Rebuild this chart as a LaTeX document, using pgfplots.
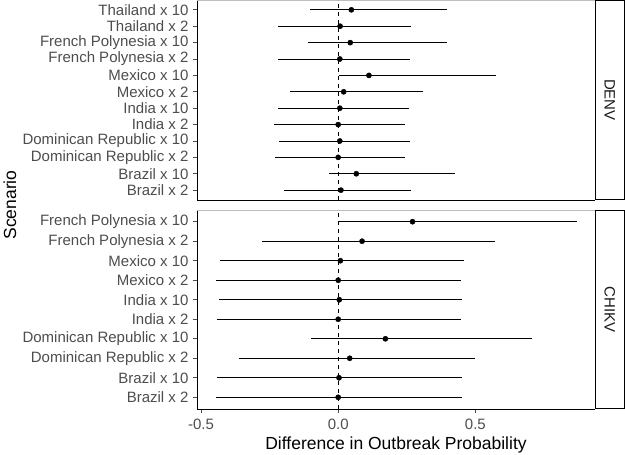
\documentclass[border=0pt]{standalone}
\usepackage{pgfplots}
\pgfplotsset{compat=1.18}
\usepackage{pgfplotstable}
\usepackage{fontspec}
\setmainfont{Liberation Sans}
\definecolor{tickgray}{HTML}{4D4D4D}
\definecolor{bordergray}{HTML}{BEBEBE}
\definecolor{stripgray}{HTML}{1A1A1A}

% DENV panel: y position, lower, estimate, upper
\pgfplotstableread{
y lo mid hi
12 -0.101 0.048 0.395
11 -0.220 0.007 0.265
10 -0.111 0.044 0.396
9 -0.220 0.006 0.262
8 0.002 0.112 0.577
7 -0.175 0.020 0.310
6 -0.220 0.006 0.257
5 -0.234 0.000 0.243
4 -0.215 0.006 0.261
3 -0.232 0.000 0.244
2 -0.032 0.066 0.425
1 -0.199 0.010 0.267
}\denv

% CHIKV panel
\pgfplotstableread{
y lo mid hi
10 0.000 0.271 0.870
9 -0.277 0.087 0.571
8 -0.431 0.008 0.460
7 -0.445 0.000 0.448
6 -0.435 0.004 0.453
5 -0.442 0.000 0.446
4 -0.098 0.172 0.705
3 -0.361 0.042 0.498
2 -0.442 0.003 0.450
1 -0.447 0.000 0.450
}\chikv

\pgfplotsset{
  panel/.style={
    scale only axis, width=398bp,
    xmin=-0.5146, xmax=0.936, ymin=0.4,
    axis x line*=bottom, axis y line*=left,
    axis line style={black, line width=0.8bp, -},
    tick align=outside, major tick length=4bp,
    tick style={tickgray, line width=0.8bp},
    ticklabel style={font=\fontsize{15bp}{17bp}\selectfont, text=tickgray},
    xticklabel style={yshift=-3bp},
    yticklabel style={xshift=-1bp},
    ytick distance=1,
    clip=false,
  },
  ci/.style={
    only marks, mark=*, mark size=2.6bp, black,
    mark options={fill=black, draw=black},
    error bars/.cd, x dir=both, x explicit, error mark=none,
    error bar style={black, line width=0.8bp},
  },
}

\begin{document}
\begin{tikzpicture}
\useasboundingbox (0,0) rectangle (625bp,455bp);

\begin{axis}[panel, at={(197bp,455bp)}, anchor=north west, height=200bp,
  ymax=12.6, xtick=\empty, ytick={1,...,12},
  yticklabels={Brazil x 2, Brazil x 10, Dominican Republic x 2, Dominican Republic x 10,
    India x 2, India x 10, Mexico x 2, Mexico x 10, French Polynesia x 2,
    French Polynesia x 10, Thailand x 2, Thailand x 10}]
  \draw[bordergray, line width=0.8bp] (rel axis cs:0,1) -- (rel axis cs:1,1);
  \addplot[black, line width=0.8bp, dash pattern=on 4bp off 4bp] coordinates {(0,0.4) (0,12.6)};
  \addplot+[ci] table[x=mid, y=y,
    x error plus expr=\thisrow{hi}-\thisrow{mid},
    x error minus expr=\thisrow{mid}-\thisrow{lo}] {\denv};
\end{axis}

\begin{axis}[panel, at={(197bp,46bp)}, anchor=south west, height=199bp,
  ymax=10.6, xtick={-0.5,0,0.5}, xticklabels={-0.5,0.0,0.5}, ytick={1,...,10},
  yticklabels={Brazil x 2, Brazil x 10, Dominican Republic x 2, Dominican Republic x 10,
    India x 2, India x 10, Mexico x 2, Mexico x 10, French Polynesia x 2,
    French Polynesia x 10}]
  \draw[bordergray, line width=0.8bp] (rel axis cs:0,1) -- (rel axis cs:1,1);
  \addplot[black, line width=0.8bp, dash pattern=on 4bp off 4bp] coordinates {(0,0.4) (0,10.6)};
  \addplot+[ci] table[x=mid, y=y,
    x error plus expr=\thisrow{hi}-\thisrow{mid},
    x error minus expr=\thisrow{mid}-\thisrow{lo}] {\chikv};
\end{axis}

% facet strips
\draw[black, line width=1.4bp, fill=white] (595.7bp,255.7bp) rectangle (624.2bp,454.3bp);
\node[rotate=-90, text=stripgray, font=\fontsize{15bp}{17bp}\selectfont] at (609.9bp,355bp) {DENV};
\draw[black, line width=1.4bp, fill=white] (595.7bp,46.7bp) rectangle (624.2bp,244.3bp);
\node[rotate=-90, text=stripgray, font=\fontsize{15bp}{17bp}\selectfont] at (609.9bp,145.5bp) {CHIKV};

% axis titles
\node[anchor=base, font=\fontsize{17.5bp}{20bp}\selectfont] at (396bp,5.5bp) {Difference in Outbreak Probability};
\node[rotate=90, anchor=base, font=\fontsize{17.5bp}{20bp}\selectfont] at (16bp,250bp) {Scenario};
\end{tikzpicture}
\end{document}
